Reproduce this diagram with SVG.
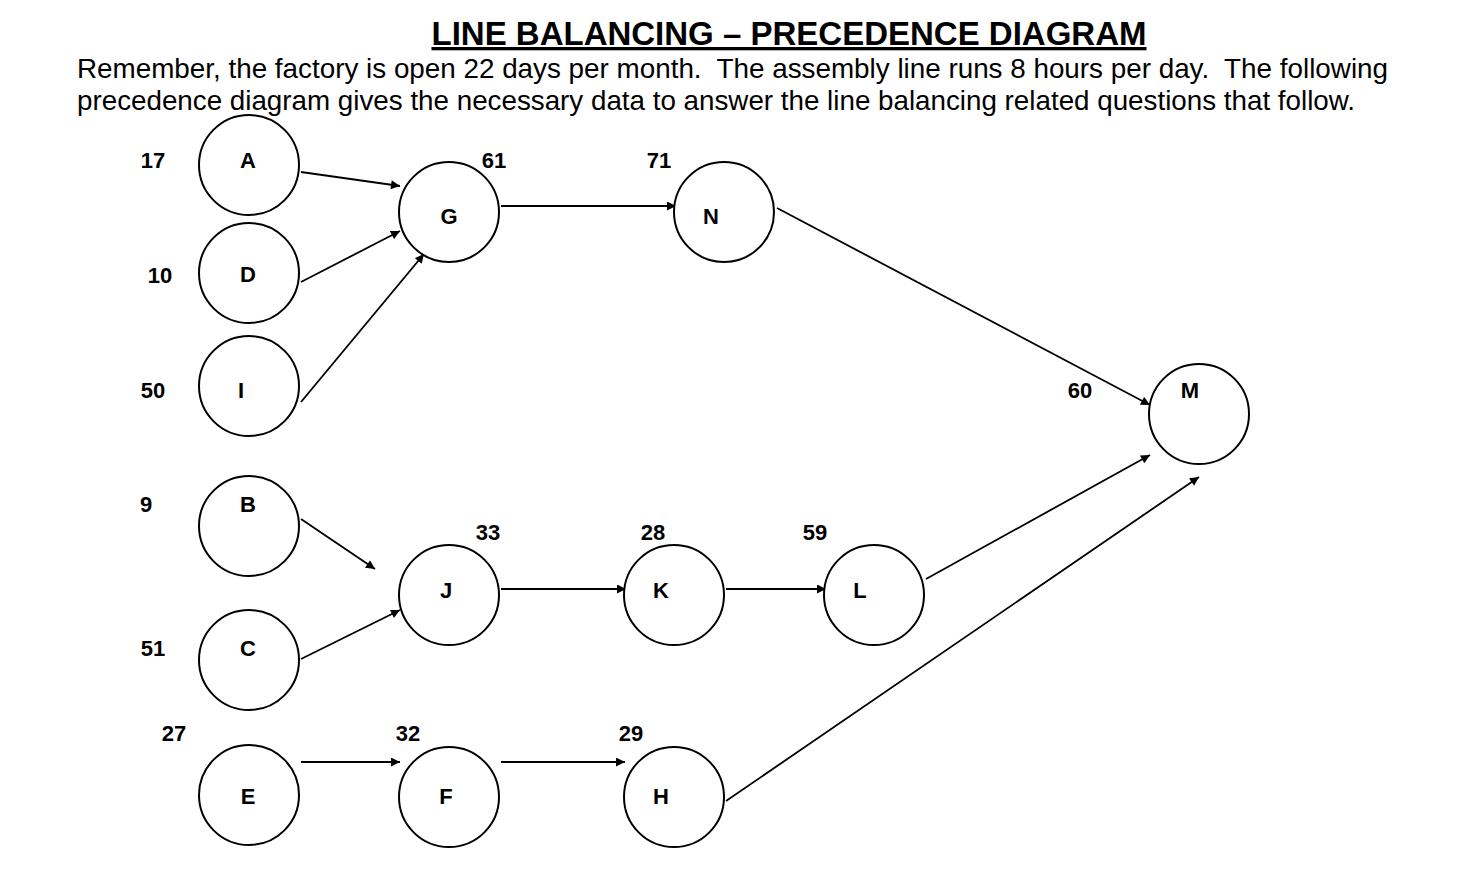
<svg xmlns="http://www.w3.org/2000/svg" width="1461" height="890" viewBox="0 0 1461 890">
<style>
text{font-family:"Liberation Sans",Arial,sans-serif;fill:#000;white-space:pre}
.n circle{fill:#fff;stroke:#000;stroke-width:2}
.n text,.w{font-weight:bold;font-size:22px;text-anchor:middle}
.e line{stroke:#000;stroke-width:1.8;marker-end:url(#ah)}
</style>
<defs><marker id="ah" viewBox="0 0 10 10" refX="10" refY="5" markerWidth="10" markerHeight="9" markerUnits="userSpaceOnUse" orient="auto"><path d="M0,0L10,5L0,10z" fill="#000"/></marker></defs>
<rect width="1461" height="890" fill="#fff"/>
<text x="789" y="45" font-size="33" font-weight="bold" text-anchor="middle" text-decoration="underline">LINE BALANCING – PRECEDENCE DIAGRAM</text>
<text x="77" y="78" font-size="27.5" xml:space="preserve" textLength="1311" lengthAdjust="spacingAndGlyphs">Remember, the factory is open 22 days per month.  The assembly line runs 8 hours per day.  The following</text>
<text x="77" y="110" font-size="27.5" textLength="1278" lengthAdjust="spacingAndGlyphs">precedence diagram gives the necessary data to answer the line balancing related questions that follow.</text>
<g class="e">
<line x1="301" y1="172" x2="400" y2="186"/>
<line x1="301" y1="282" x2="400" y2="231"/>
<line x1="301" y1="402" x2="424" y2="254"/>
<line x1="501" y1="206" x2="676" y2="206"/>
<line x1="777" y1="208" x2="1150" y2="405"/>
<line x1="301" y1="519" x2="375" y2="569"/>
<line x1="301" y1="659" x2="400" y2="610"/>
<line x1="501" y1="589" x2="626" y2="589"/>
<line x1="726" y1="589" x2="826" y2="589"/>
<line x1="926" y1="579" x2="1150" y2="455"/>
<line x1="726" y1="801" x2="1199" y2="477"/>
<line x1="301" y1="762" x2="400" y2="762"/>
<line x1="501" y1="762" x2="625" y2="762"/>
</g>
<g id="A" class="n"><circle cx="249" cy="165" r="50"/><text x="248" y="168">A</text></g>
<g id="D" class="n"><circle cx="249" cy="273" r="50"/><text x="248" y="282">D</text></g>
<g id="I" class="n"><circle cx="249" cy="386" r="50"/><text x="241" y="398">I</text></g>
<g id="B" class="n"><circle cx="249" cy="526" r="50"/><text x="248" y="512">B</text></g>
<g id="C" class="n"><circle cx="249" cy="660" r="50"/><text x="248" y="656">C</text></g>
<g id="E" class="n"><circle cx="249" cy="795" r="50"/><text x="248" y="804">E</text></g>
<g id="G" class="n"><circle cx="449" cy="212" r="50"/><text x="449" y="224">G</text></g>
<g id="N" class="n"><circle cx="724" cy="212" r="50"/><text x="711" y="224">N</text></g>
<g id="J" class="n"><circle cx="449" cy="595" r="50"/><text x="446" y="598">J</text></g>
<g id="K" class="n"><circle cx="674" cy="595" r="50"/><text x="661" y="598">K</text></g>
<g id="L" class="n"><circle cx="874" cy="595" r="50"/><text x="860" y="598">L</text></g>
<g id="F" class="n"><circle cx="449" cy="797" r="50"/><text x="446" y="804">F</text></g>
<g id="H" class="n"><circle cx="674" cy="797" r="50"/><text x="661" y="804">H</text></g>
<g id="M" class="n"><circle cx="1199" cy="414" r="50"/><text x="1190" y="398">M</text></g>
<g id="weights">
<text class="w" x="153" y="168">17</text>
<text class="w" x="160" y="283">10</text>
<text class="w" x="153" y="398">50</text>
<text class="w" x="146" y="512">9</text>
<text class="w" x="153" y="656">51</text>
<text class="w" x="174" y="741">27</text>
<text class="w" x="494" y="168">61</text>
<text class="w" x="659" y="168">71</text>
<text class="w" x="488" y="540">33</text>
<text class="w" x="653" y="540">28</text>
<text class="w" x="815" y="540">59</text>
<text class="w" x="1080" y="398">60</text>
<text class="w" x="408" y="741">32</text>
<text class="w" x="631" y="741">29</text>
</g>
</svg>
